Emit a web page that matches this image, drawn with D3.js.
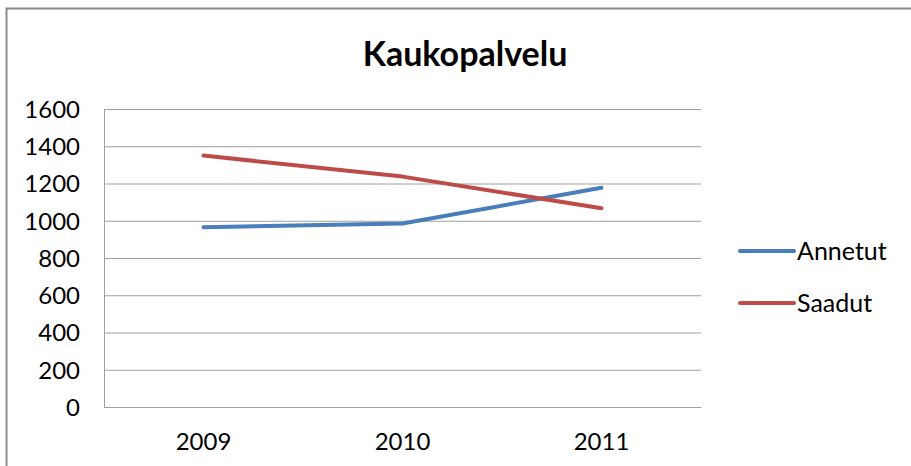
<!DOCTYPE html>
<html>
<head>
<meta charset="utf-8">
<script src="https://cdn.jsdelivr.net/npm/d3@7"></script>
<style>
	body { margin: 0; background: #fff; }
	svg text { font-family: Lato, "Open Sans", sans-serif; fill: #000; }
</style>
</head>
<body>
<div id="container"></div>
<script>
// chart data
var years = ["2009", "2010", "2011"];
var seriesNames = ["Annetut", "Saadut"];
var annetut = [965, 985, 1177];
var saadut = [1350, 1237, 1067];
var yTicks = [0, 200, 400, 600, 800, 1000, 1200, 1400, 1600];
var colors = ["#4a7ebb", "#be4b48"];

(function()
{
	var width = 911, height = 466;
	var plot = {left: 104, right: 701, top: 109, bottom: 407};

	var svg = d3.select("#container").append("svg")
		.attr("width", width).attr("height", height);

	// outer chart frame (only top and left are visible in the picture)
	svg.append("path")
		.attr("d", "M6.5," + height + " V8.5 H" + width)
		.attr("fill", "none").attr("stroke", "#8c8c8c").attr("stroke-width", 2);

	svg.append("text")
		.attr("x", 465).attr("y", 66)
		.attr("text-anchor", "middle")
		.style("font-size", "34px").style("font-weight", "bold")
		.text("Kaukopalvelu");

	var x = d3.scaleBand().domain(years).range([plot.left, plot.right]);
	var y = d3.scaleLinear().domain([0, 1600]).range([plot.bottom, plot.top]);

	// gridlines + y labels
	var yAxis = svg.append("g")
		.attr("transform", "translate(" + plot.left + ",0)")
		.call(d3.axisLeft(y).tickValues(yTicks).tickFormat(d3.format("d"))
			.tickSize(-(plot.right - plot.left)).tickPadding(24));
	yAxis.select(".domain").remove();
	yAxis.selectAll(".tick line").attr("stroke", "#a0a0a0").attr("stroke-width", 1);
	yAxis.selectAll(".tick text").style("font-size", "24px").attr("dy", "0.35em");

	// axis lines
	svg.append("line")
		.attr("x1", plot.left + 0.5).attr("x2", plot.left + 0.5)
		.attr("y1", plot.top).attr("y2", plot.bottom)
		.attr("stroke", "#a0a0a0");

	var xAxis = svg.append("g")
		.attr("transform", "translate(0," + plot.bottom + ")")
		.call(d3.axisBottom(x).tickSize(0).tickPadding(26));
	xAxis.select(".domain").attr("stroke", "#a0a0a0");
	xAxis.selectAll(".tick text").style("font-size", "24px");

	var line = d3.line()
		.x(function(d, i) { return x(years[i]) + x.bandwidth() / 2; })
		.y(function(d) { return y(d); });

	[annetut, saadut].forEach(function(values, i)
	{
		svg.append("path")
			.datum(values)
			.attr("fill", "none")
			.attr("stroke", colors[i])
			.attr("stroke-width", 4)
			.attr("stroke-linecap", "round")
			.attr("stroke-linejoin", "round")
			.attr("d", line);
	});

	// legend
	var legend = svg.append("g").attr("transform", "translate(740,251)");
	seriesNames.forEach(function(name, i)
	{
		var g = legend.append("g").attr("transform", "translate(0," + (i * 52) + ")");
		g.append("line")
			.attr("x1", 0).attr("x2", 54)
			.attr("stroke", colors[i]).attr("stroke-width", 4).attr("stroke-linecap", "round");
		g.append("text")
			.attr("x", 57).attr("y", 0).attr("dy", "0.35em")
			.style("font-size", "25px")
			.text(name);
	});
})();
</script>
</body>
</html>
